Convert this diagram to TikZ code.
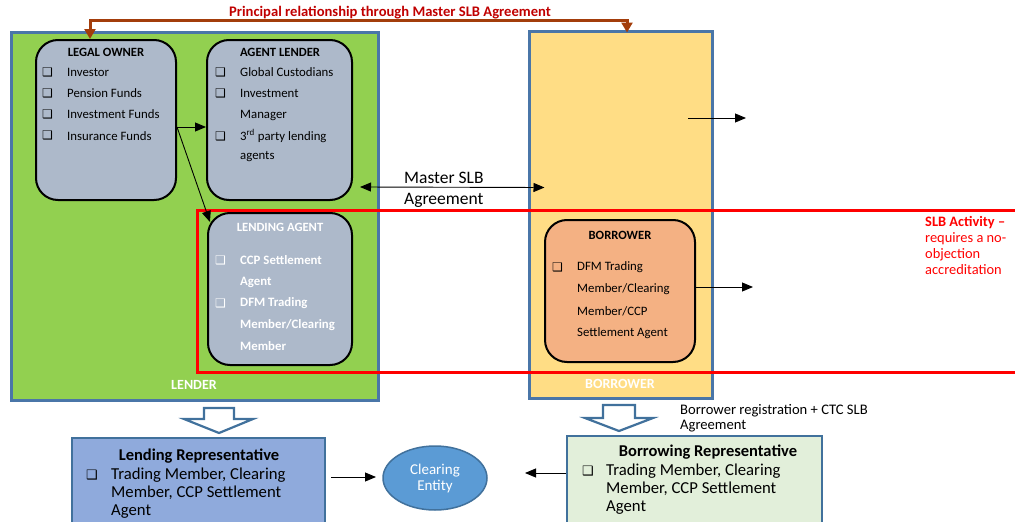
\documentclass[tikz,border=0pt]{standalone}
\usepackage{fontspec}
\setmainfont{Carlito}
\newfontfamily\dejavu{DejaVu Sans}
\usetikzlibrary{arrows.meta,shapes.geometric}
\definecolor{lgreen}{HTML}{92D050}
\definecolor{lyellow}{HTML}{FFDD85}
\definecolor{bordblue}{HTML}{4A76A8}
\definecolor{boxgray}{HTML}{ADB9CA}
\definecolor{peach}{HTML}{F4B183}
\definecolor{brownarr}{HTML}{A33D0B}
\definecolor{darkred}{HTML}{C00000}
\definecolor{lendblue}{HTML}{8FAADC}
\definecolor{entblue}{HTML}{5B9BD5}
\definecolor{palegreen}{HTML}{E2EFDA}
\definecolor{repborder}{HTML}{41719C}
\tikzset{
  frame/.style={draw=bordblue,line width=3pt,inner sep=0pt},
  rbox/.style={draw=black,line width=2pt,rounded corners=22pt,fill=boxgray,inner sep=0pt},
  item/.style={anchor=west,inner sep=0pt,font=\fontsize{12.8}{14}\selectfont},
  bitem/.style={item,text=white,font=\bfseries\fontsize{12.8}{14}\selectfont},
  chk/.style={anchor=west,inner sep=0pt,font=\dejavu\fontsize{12}{12}\selectfont},
  ttl/.style={inner sep=0pt,font=\bfseries\fontsize{12.6}{14}\selectfont},
  conn/.style={-{Triangle[length=11pt,width=9pt]},line width=0.9pt},
  repbox/.style={draw=repborder,line width=2.2pt,inner sep=0pt},
  blockarr/.style={draw=repborder,line width=2.2pt,fill=white,line join=miter},
  bigtxt/.style={anchor=west,inner sep=0pt,font=\fontsize{16.7}{18}\selectfont},
  midtxt/.style={anchor=west,inner sep=0pt,font=\fontsize{17.5}{19}\selectfont},
}
\begin{document}
\begin{tikzpicture}[x=1pt,y=-1pt]
\useasboundingbox (0,0) rectangle (1015,522);
% big frames
\node[frame,fill=lgreen,minimum width=367pt,minimum height=368pt] (lender) at (194.5,216) {};
\node[frame,fill=lyellow,minimum width=183pt,minimum height=367pt] (borrowerframe) at (620.5,214.5) {};
% red SLB region
\draw[red,line width=3pt] (197,210) rectangle (1030,372);
% rounded boxes
\node[rbox,minimum width=140pt,minimum height=160pt] (legal) at (106,120) {};
\node[rbox,minimum width=145pt,minimum height=160pt] (agent) at (279.5,120) {};
\node[rbox,minimum width=144pt,minimum height=152pt] (lendagent) at (280,289) {};
\node[rbox,fill=peach,minimum width=150pt,minimum height=142pt] (borrower) at (620,291) {};
% legal owner text
\node[ttl] (lot) at (106,52) {LEGAL OWNER};
\foreach \t [count=\i] in {Investor,Pension Funds,Investment Funds,Insurance Funds}{
  \node[chk] (loc\i) at (42,{72+21.3*(\i-1)}) {❑};
  \node[item] (lo\i) at (67,{72+21.3*(\i-1)}) {\t};
}
% agent lender text
\node[ttl] (alt) at (280,52) {AGENT LENDER};
\node[chk] (alc1) at (215,72) {❑};
\node[chk] (alc2) at (215,93) {❑};
\node[chk] (alc3) at (215,136) {❑};
\node[item] (al1) at (240,72) {Global Custodians};
\node[item] (al2) at (240,93) {Investment};
\node[item] (al3) at (240,115) {Manager};
\node[item] (al4) at (240,136) {3\textsuperscript{rd} party lending};
\node[item] (al5) at (240,157) {agents};
% lending agent text
\node[ttl,text=white] (lat) at (280,227) {LENDING AGENT};
\node[chk,text=white] (lac1) at (215,260) {❑};
\node[chk,text=white] (lac2) at (215,303) {❑};
\node[bitem] (la1) at (240,260) {CCP Settlement};
\node[bitem] (la2) at (240,282) {Agent};
\node[bitem] (la3) at (240,303) {DFM Trading};
\node[bitem] (la4) at (240,325) {Member/Clearing};
\node[bitem] (la5) at (240,346) {Member};
% borrower text
\node[ttl] (bt) at (620,235) {BORROWER};
\node[chk] (bc1) at (552,267) {❑};
\node[item] (b1) at (577,267) {DFM Trading};
\node[item] (b2) at (577,289) {Member/Clearing};
\node[item] (b3) at (577,311) {Member/CCP};
\node[item] (b4) at (577,333) {Settlement Agent};
% frame labels
\node[ttl,text=white,font=\bfseries\fontsize{14}{16}\selectfont] (lendlbl) at (194,385) {LENDER};
\node[ttl,text=white,font=\bfseries\fontsize{14}{16}\selectfont] (borrlbl) at (620,384) {BORROWER};
% principal relationship
\coordinate (pl) at (90,20);
\coordinate (pr) at (627,20);
\draw[brownarr,line width=3pt,{Triangle[length=10pt,width=11pt]}-{Triangle[length=10pt,width=11pt]}] (legal.north -| pl) -- (pl) -- (pr) -- ([yshift=-3pt]borrowerframe.north -| pr);
\node[inner sep=0pt,text=darkred,font=\bfseries\fontsize{14.6}{16}\selectfont] (ptxt) at (390,13) {Principal relationship through Master SLB Agreement};
% master SLB agreement
\draw[{Triangle[length=11pt,width=9pt]}-{Triangle[length=11pt,width=9pt]},line width=0.9pt] ([xshift=7pt,yshift=-67pt]agent.east) -- ([xshift=17pt,yshift=27pt]borrowerframe.west);
\node[midtxt] (ms1) at (404,178) {Master SLB};
\node[midtxt] (ms2) at (404,200) {Agreement};
% legal owner arrows
\coordinate (lofork) at ([yshift=-7pt]legal.east);
\draw[conn] (lofork) -- ([yshift=-7pt]agent.west);
\draw[conn] (lofork) -- ([xshift=3pt,yshift=-10pt]lendagent.north west);
% right side arrows
\coordinate (rt1) at (746,118);
\coordinate (rt2) at (753,287);
\draw[conn] (688,118) -- (rt1);
\draw[conn] (borrower.east |- rt2) -- (rt2);
% SLB activity note
\node[anchor=north west,inner sep=0pt,align=left,text=red,font=\fontsize{14.4}{16}\selectfont] (slb) at (925,216) {\textbf{SLB Activity –}\\requires a no-\\objection\\accreditation};
% block arrows
\draw[blockarr] (204,408) -- (234,408) -- (234,419) -- (253,419) -- (219,433) -- (184,419) -- (204,419) -- cycle;
\draw[blockarr] (603,405) -- (635,405) -- (635,418) -- (653,418) -- (619,431) -- (585,418) -- (603,418) -- cycle;
% representatives
\node[repbox,fill=lendblue,minimum width=253pt,minimum height=100pt] (lrep) at (198.5,488) {};
\node[repbox,fill=palegreen,minimum width=255pt,minimum height=100pt] (brep) at (694.5,486) {};
\node[ttl,font=\bfseries\fontsize{16.5}{18}\selectfont] (lrt) at (199,456) {Lending Representative};
\node[chk,font=\dejavu\fontsize{13}{13}\selectfont] (lrc) at (86,475) {❑};
\node[bigtxt] (lr1) at (111,475) {Trading Member, Clearing};
\node[bigtxt] (lr2) at (111,493) {Member, CCP Settlement};
\node[bigtxt] (lr3) at (111,512) {Agent};
\node[ttl,font=\bfseries\fontsize{16.5}{18}\selectfont] (brt) at (708,452) {Borrowing Representative};
\node[chk,font=\dejavu\fontsize{13}{13}\selectfont] (brc) at (582,471) {❑};
\node[bigtxt] (br1) at (606,471) {Trading Member, Clearing};
\node[bigtxt] (br2) at (606,489) {Member, CCP Settlement};
\node[bigtxt] (br3) at (606,508) {Agent};
% clearing entity
\node[ellipse,draw=repborder,line width=1.5pt,fill=entblue,minimum width=104pt,minimum height=64pt,inner sep=0pt,align=center,text=white,font=\fontsize{15}{16}\selectfont] (clear) at (435,478) {Clearing\\Entity};
\coordinate (cin) at (376,477);
\coordinate (cout) at (525,473);
\draw[conn] ([xshift=5pt]lrep.east |- cin) -- (cin);
\draw[conn] (brep.west |- cout) -- (cout);
% registration note
\node[anchor=north west,inner sep=0pt,align=left,font=\fontsize{14.6}{15}\selectfont] (reg) at (680,404) {Borrower registration + CTC SLB\\Agreement};
\end{tikzpicture}
\end{document}
